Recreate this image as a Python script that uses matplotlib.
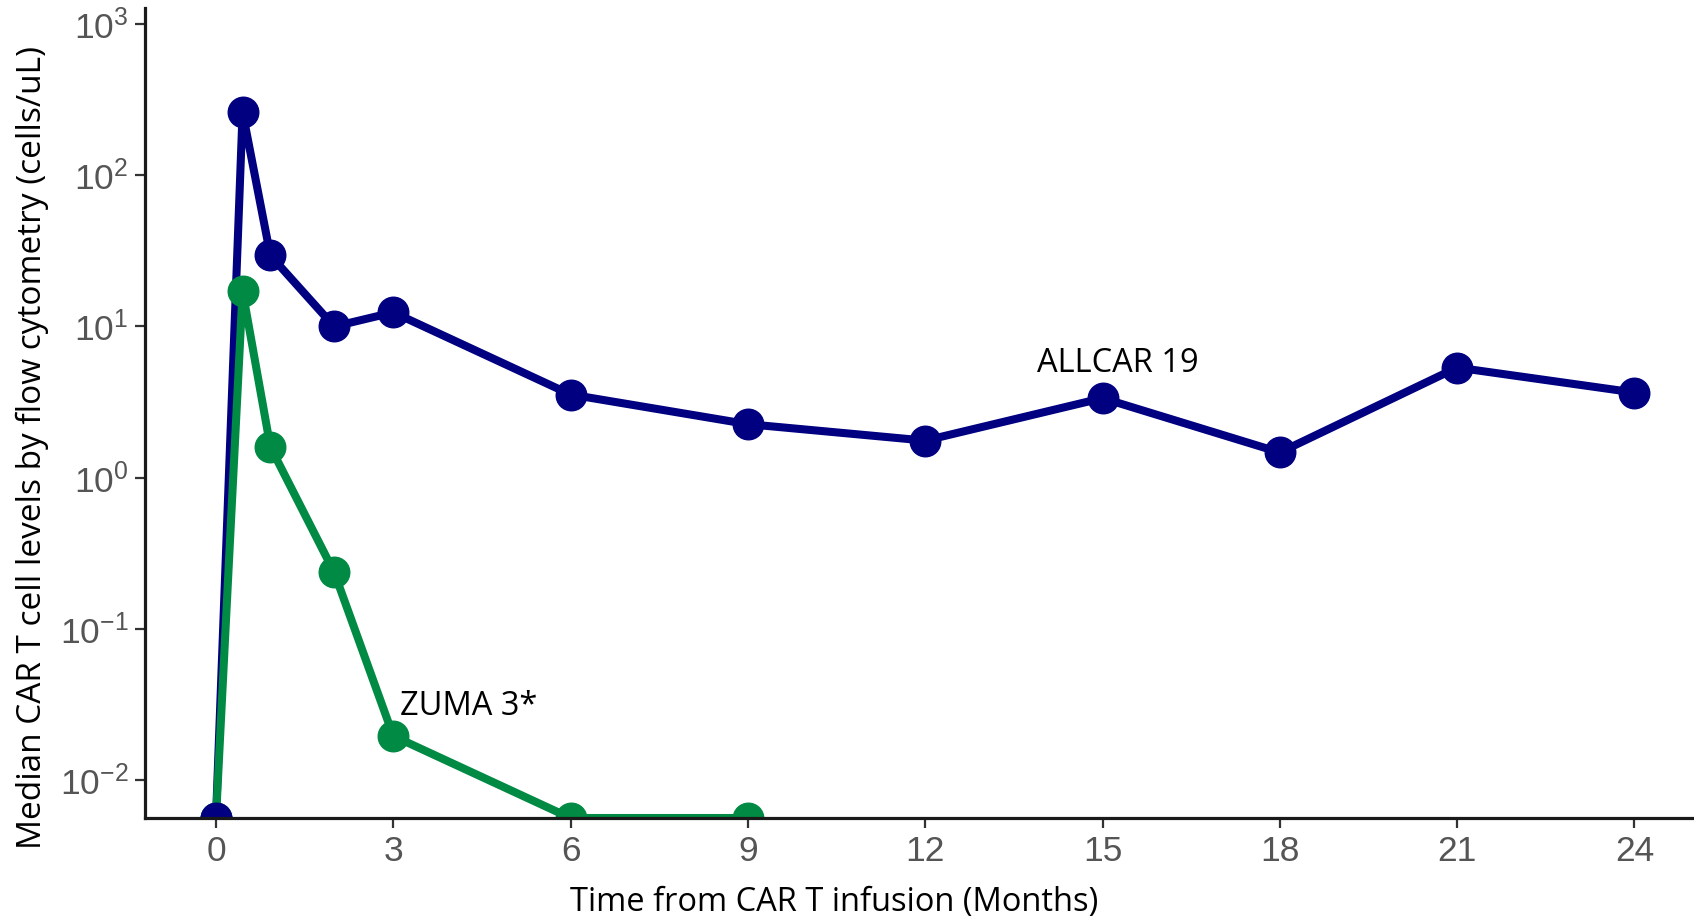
import matplotlib
matplotlib.use("Agg")
import matplotlib.pyplot as plt
from matplotlib.ticker import LogLocator, NullLocator, FixedLocator

plt.rcParams["axes.unicode_minus"] = False

# Data (months, cells/uL); values at the lower axis limit are shown on the axis
floor = 10 ** -2.25
months_allcar = [0, 0.45, 0.92, 2, 3, 6, 9, 12, 15, 18, 21, 24]
allcar = [floor, 261, 29.5, 10.0, 12.4, 3.55, 2.26, 1.76, 3.36, 1.47, 5.35, 3.66]
months_zuma = [0, 0.45, 0.92, 2, 3, 6, 9]
zuma = [floor, 17.1, 1.6, 0.237, 0.0196, floor, floor]
x_ticks = [0, 3, 6, 9, 12, 15, 18, 21, 24]

navy = "#000080"
green = "#008A44"

fig = plt.figure(figsize=(16.94, 9.22), dpi=100)
ax = fig.add_axes([145 / 1694, 1 - 818 / 922, 1 - 145 / 1694, (818 - 8) / 922])

ax.plot(months_allcar, allcar, "-o", color=navy, lw=5.8, ms=22, zorder=2)
ax.plot(months_zuma, zuma, "-o", color=green, lw=5.8, ms=22, zorder=3)
ax.plot(months_allcar[:1], allcar[:1], "o", color=navy, ms=22, zorder=4)

ax.set_yscale("log")
ax.set_ylim(floor, 10 ** 3.106)
ax.set_xlim((145 - 216) / 59.1, (1694 - 216) / 59.1)
ax.xaxis.set_major_locator(FixedLocator(x_ticks))
ax.yaxis.set_major_locator(LogLocator(base=10, numticks=10))
ax.yaxis.set_minor_locator(NullLocator())

for s in ["top", "right"]:
    ax.spines[s].set_visible(False)
for s in ["left", "bottom"]:
    ax.spines[s].set_linewidth(2.3)
    ax.spines[s].set_color("#1a1a1a")
    ax.spines[s].set_zorder(5)

ax.tick_params(axis="both", length=7, width=1.6, color="#333333",
               labelsize=25.5, labelcolor="#555555", pad=5)
for lab in ax.get_xticklabels() + ax.get_yticklabels():
    lab.set_family("Liberation Sans")

lab_font = dict(family="Open Sans", size=23.5, color="black")
ax.set_xlabel("Time from CAR T infusion (Months)", **lab_font, labelpad=13)
ax.xaxis.label.set_x(0.445)
ax.set_ylabel("Median CAR T cell levels by flow cytometry (cells/uL)", size=24,
              family="Open Sans", color="black", labelpad=8)
ax.yaxis.label.set_y(0.457)

ax.text(13.9, 5.7, "ALLCAR 19", va="center", ha="left", **lab_font)
ax.text(3.11, 0.0307, "ZUMA 3*", va="center", ha="left", **lab_font)

fig.savefig("out.png", dpi=100)
